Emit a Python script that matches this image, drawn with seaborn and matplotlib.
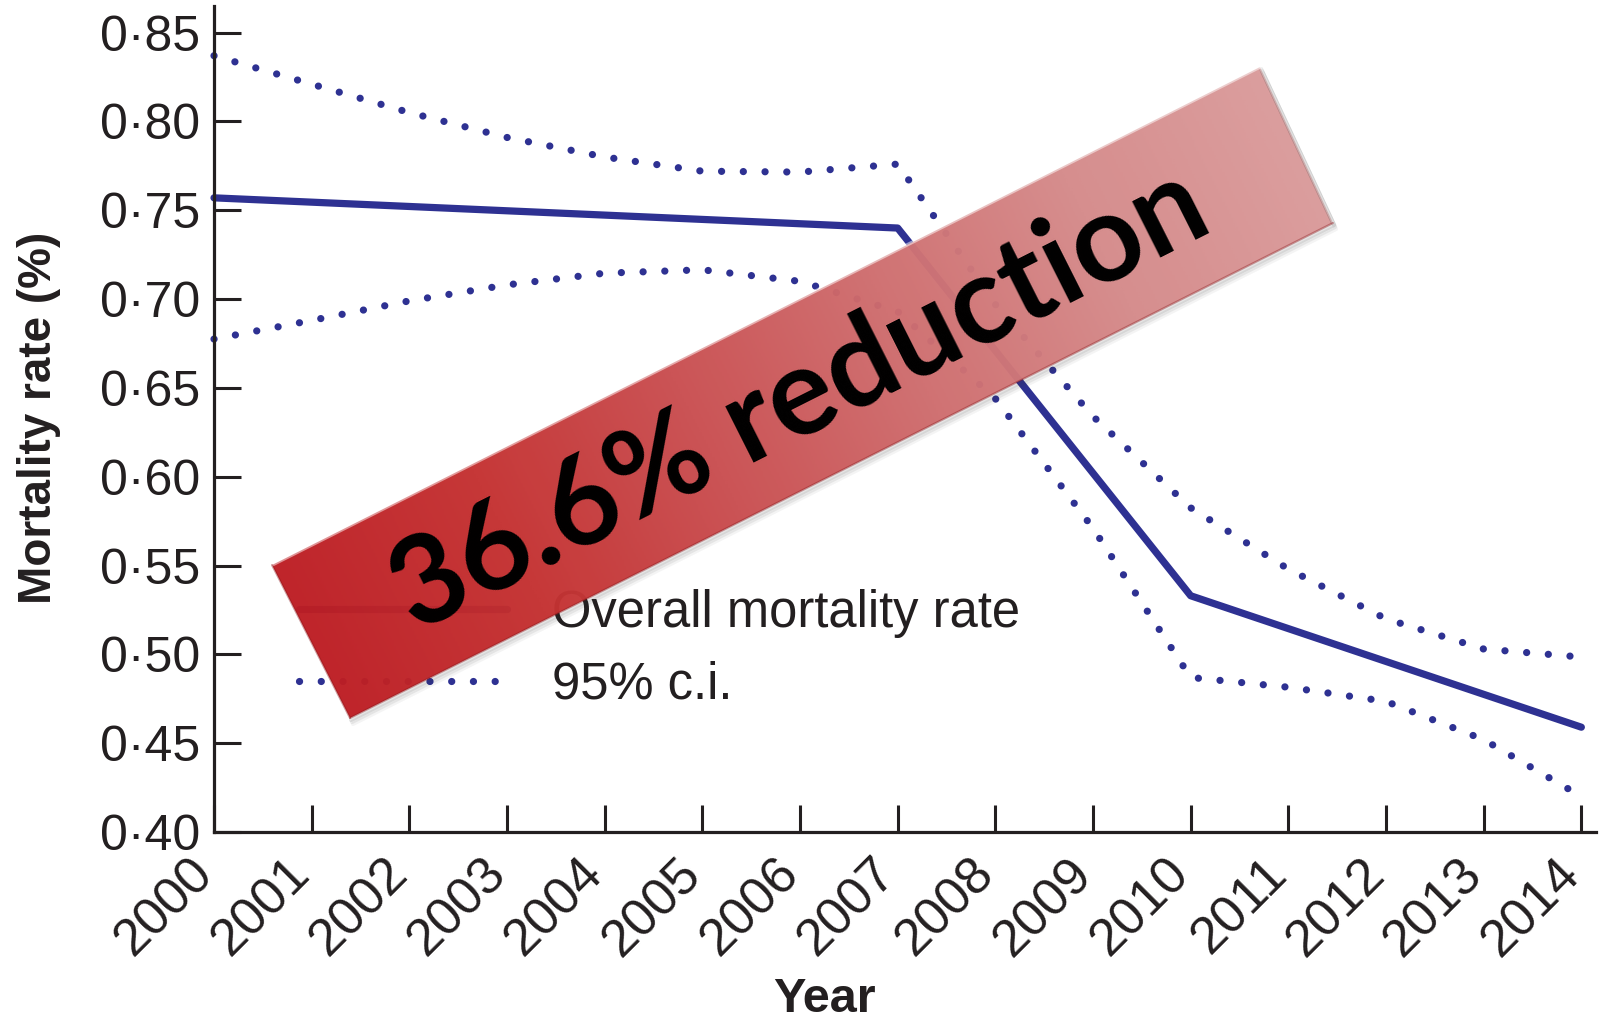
import numpy as np
import matplotlib
matplotlib.use("Agg")
import matplotlib.pyplot as plt
import seaborn as sns
from matplotlib.patches import Polygon
from matplotlib.colors import LinearSegmentedColormap
from matplotlib.ticker import FuncFormatter
from matplotlib.lines import Line2D
from matplotlib.transforms import ScaledTranslation

# === data ===
fit_years = [2000, 2007, 2010, 2014]
fit_rate = [0.757, 0.740, 0.533, 0.459]

ci_years = list(range(2000, 2015))
ci_upper = [0.837, 0.821, 0.805, 0.791, 0.780, 0.772, 0.7715, 0.776,
            0.697, 0.634, 0.5825, 0.548, 0.520, 0.503, 0.4985]
ci_lower = [0.6775, 0.688, 0.699, 0.708, 0.7146, 0.7165, 0.710, 0.693,
            0.644, 0.571, 0.487, 0.4815, 0.4735, 0.452, 0.420]

y_ticks = [0.40, 0.45, 0.50, 0.55, 0.60, 0.65, 0.70, 0.75, 0.80, 0.85]
x_ticks = ci_years
legend_labels = ["Overall mortality rate", "95% c.i."]
banner_text = "36.6% reduction"

# === style ===
sns.set_style("ticks")
plt.rcParams['font.family'] = ['Liberation Sans', 'DejaVu Sans']

navy = '#2e3192'
ink = '#231f20'
dots = (0, (0.01, 3.0))

W, H = 1603, 1025
fig = plt.figure(figsize=(W / 100, H / 100), dpi=100)
ax = fig.add_axes([214 / W, 1 - 832 / H, 1382 / W, 826 / H])

# 主线 + 置信区间
sns.lineplot(x=fit_years, y=fit_rate, ax=ax, color=navy, lw=5.2, clip_on=False)
sns.lineplot(x=ci_years, y=ci_upper, ax=ax, color=navy, lw=5.2, linestyle=dots,
             dash_capstyle='round', clip_on=False)
sns.lineplot(x=ci_years, y=ci_lower, ax=ax, color=navy, lw=5.2, linestyle=dots,
             dash_capstyle='round', clip_on=False)

ax.set_xlim(2000, 2014.15)
ax.set_ylim(0.40, 0.865)
sns.despine(ax=ax)
for s in ['left', 'bottom']:
    ax.spines[s].set_linewidth(2.3)
    ax.spines[s].set_color(ink)

ax.set_yticks(y_ticks)
ax.yaxis.set_major_formatter(FuncFormatter(lambda v, p: f"{v:.2f}".replace('.', '\u00b7')))
ax.set_xticks(x_ticks)
ax.set_xticklabels([str(x) for x in x_ticks], rotation=45, ha='right', va='center',
                   rotation_mode='anchor')
ax.tick_params(direction='in', length=19.5, width=2.2, color=ink, labelsize=36,
               labelcolor=ink)
ax.tick_params(axis='x', labelsize=37.5, pad=25)
ax.tick_params(axis='y', pad=10)
for lbl in ax.get_xticklabels():
    lbl.set_transform(lbl.get_transform() + ScaledTranslation(-0.09, 0, fig.dpi_scale_trans))

ax.set_ylabel("Mortality rate (%)", fontsize=33, fontweight='bold', color=ink)
ax.yaxis.set_label_coords(-0.111, 0.501)
ax.set_xlabel("Year", fontsize=35, fontweight='bold', color=ink)
ax.xaxis.set_label_coords(0.442, -0.176)

handles = [Line2D([], [], color=navy, lw=5.2),
           Line2D([], [], color=navy, lw=5.2, linestyle=dots, dash_capstyle='round')]
ax.legend(handles, legend_labels, loc='center left',
          bbox_to_anchor=(299 / W, 1 - 649 / H), bbox_transform=fig.transFigure,
          frameon=False, fontsize=36.5, labelcolor=ink, handlelength=4.1,
          handletextpad=0.9, labelspacing=0.45, borderpad=0, borderaxespad=0)

# === banner overlay (pixel coords) ===
ov = fig.add_axes([0, 0, 1, 1])
ov.axis('off')
corners = np.array([[272, 565], [350, 718], [1333, 223], [1260, 67]], dtype=float)

# soft shadow along lower and right edges
for k, a in [(6, 0.05), (4, 0.08), (2, 0.12)]:
    ov.plot(corners[[1, 2, 3], 0] + k * 0.5, corners[[1, 2, 3], 1] + k,
            color='#303030', alpha=a, lw=3, solid_capstyle='round')

poly = Polygon(corners, closed=True, fc='none', ec='none')
ov.add_patch(poly)
xs = np.linspace(260, 1345, 500)
ys = np.linspace(55, 730, 320)
X, Y = np.meshgrid(xs, ys)
u = corners[3] - corners[0]
L = np.hypot(*u)
u = u / L
t = ((X - corners[0][0]) * u[0] + (Y - corners[0][1]) * u[1]) / L
cmap = LinearSegmentedColormap.from_list('banner', ['#bd1e24', '#c43131', '#ca4e50',
                                                    '#cf6d6e', '#d58a8a', '#da9b9b'])
im = ov.imshow(np.clip(t, 0, 1), extent=(260, 1345, 730, 55), origin='upper', cmap=cmap,
               alpha=0.97, aspect='auto', interpolation='bilinear')
im.set_clip_path(poly)

ov.plot(corners[[0, 3], 0], corners[[0, 3], 1], color='white', alpha=0.5, lw=2.5)
ov.plot(corners[[3, 2], 0], corners[[3, 2], 1], color='white', alpha=0.35, lw=2)
ov.plot(corners[[0, 1], 0], corners[[0, 1], 1], color='#8a1418', alpha=0.4, lw=1.5)
ov.plot(corners[[1, 2], 0], corners[[1, 2], 1], color='#8a1418', alpha=0.4, lw=1.5)

ov.text(800, 400, banner_text, rotation=26.75, rotation_mode='anchor', ha='center',
        va='center', fontsize=88, fontweight='bold', color='black',
        family=['Lato', 'DejaVu Sans'])

ov.set_xlim(0, W)
ov.set_ylim(H, 0)

fig.savefig('out.png', dpi=100)
